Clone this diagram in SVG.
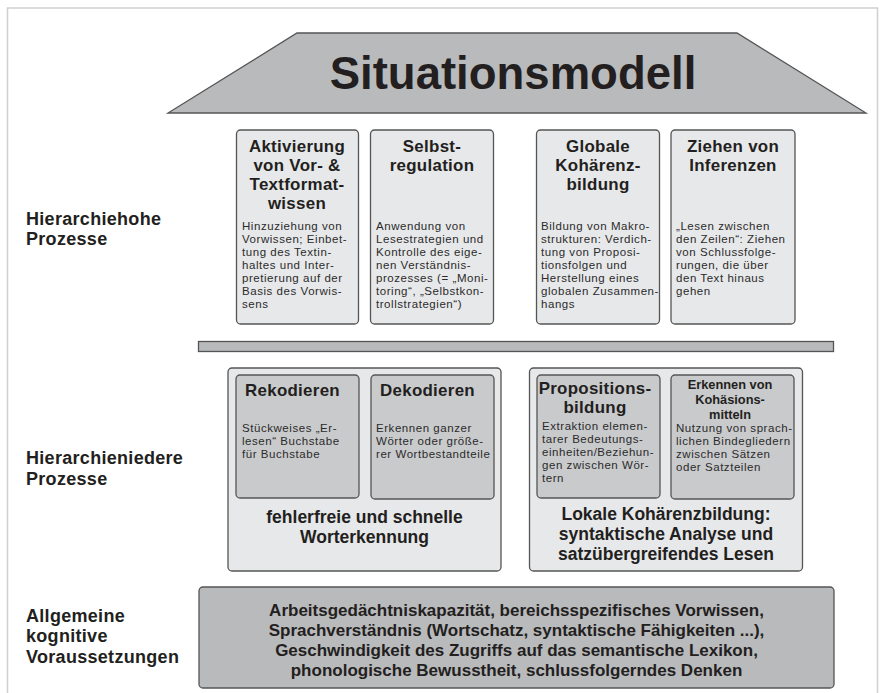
<svg xmlns="http://www.w3.org/2000/svg" width="883" height="693" viewBox="0 0 883 693">
<style>
.t{font-family:"Liberation Sans",Arial,sans-serif;fill:#231f20}
.title{font-size:45.5px;font-weight:bold}
.bt{font-size:16.9px;font-weight:bold;letter-spacing:0.3px}
.lb{font-size:18px;font-weight:bold;letter-spacing:0.3px}
.d{font-size:11.5px;letter-spacing:0.55px;fill:#2b2b2b}
.sm{font-size:12.8px;font-weight:bold}
.sum{font-size:17.5px;font-weight:bold}
.bot{font-size:17px;font-weight:bold}
.box{fill:#e7e8ea;stroke:#555;stroke-width:1.3}
.inner{fill:#c9cacc;stroke:#555;stroke-width:1.3}
.dark{fill:#b9babc;stroke:#555;stroke-width:1.3}
.c{text-anchor:middle}
</style>
<rect x="0" y="0" width="883" height="693" fill="#fff"/>
<rect x="7.5" y="8" width="870" height="700" fill="none" stroke="#d0d0d0" stroke-width="1.5"/>

<g id="roof">
<polygon class="dark" points="297,33 737,33 866,113 168,113"/>
<text class="t title c" x="513" y="89">Situationsmodell</text>
</g>

<g id="labels">
<text class="t lb" x="26" y="225">Hierarchiehohe</text>
<text class="t lb" x="26" y="245">Prozesse</text>
<text class="t lb" x="26" y="464">Hierarchieniedere</text>
<text class="t lb" x="26" y="485">Prozesse</text>
<text class="t lb" x="26" y="622">Allgemeine</text>
<text class="t lb" x="26" y="642">kognitive</text>
<text class="t lb" x="26" y="663">Voraussetzungen</text>
</g>

<g id="aktivierung">
<rect class="box" x="236.5" y="130" width="122" height="194" rx="4"/>
<text class="t bt c" x="297" y="152">Aktivierung</text>
<text class="t bt c" x="297" y="171">von Vor- &amp;</text>
<text class="t bt c" x="297" y="190">Textformat-</text>
<text class="t bt c" x="297" y="209">wissen</text>
<text class="t d" x="242" y="230">Hinzuziehung von</text>
<text class="t d" x="242" y="243">Vorwissen; Einbet-</text>
<text class="t d" x="242" y="256">tung des Textin-</text>
<text class="t d" x="242" y="269">haltes und Inter-</text>
<text class="t d" x="242" y="282">pretierung auf der</text>
<text class="t d" x="242" y="295">Basis des Vorwis-</text>
<text class="t d" x="242" y="308">sens</text>
</g>

<g id="selbstregulation">
<rect class="box" x="370.5" y="130" width="123" height="194" rx="4"/>
<text class="t bt c" x="432" y="152">Selbst-</text>
<text class="t bt c" x="432" y="171">regulation</text>
<text class="t d" x="376" y="230">Anwendung von</text>
<text class="t d" x="376" y="243">Lesestrategien und</text>
<text class="t d" x="376" y="256">Kontrolle des eige-</text>
<text class="t d" x="376" y="269">nen Verständnis-</text>
<text class="t d" x="376" y="282">prozesses (= „Moni-</text>
<text class="t d" x="376" y="295">toring“, „Selbstkon-</text>
<text class="t d" x="376" y="308">trollstrategien“)</text>
</g>

<g id="globale">
<rect class="box" x="536.5" y="130" width="123" height="194" rx="4"/>
<text class="t bt c" x="598" y="152">Globale</text>
<text class="t bt c" x="598" y="171">Kohärenz-</text>
<text class="t bt c" x="598" y="190">bildung</text>
<text class="t d" x="541" y="230">Bildung von Makro-</text>
<text class="t d" x="541" y="243">strukturen: Verdich-</text>
<text class="t d" x="541" y="256">tung von Proposi-</text>
<text class="t d" x="541" y="269">tionsfolgen und</text>
<text class="t d" x="541" y="282">Herstellung eines</text>
<text class="t d" x="541" y="295">globalen Zusammen-</text>
<text class="t d" x="541" y="308">hangs</text>
</g>

<g id="inferenzen">
<rect class="box" x="671" y="130" width="124" height="194" rx="4"/>
<text class="t bt c" x="733" y="152">Ziehen von</text>
<text class="t bt c" x="733" y="171">Inferenzen</text>
<text class="t d" x="676" y="230">„Lesen zwischen</text>
<text class="t d" x="676" y="243">den Zeilen“: Ziehen</text>
<text class="t d" x="676" y="256">von Schlussfolge-</text>
<text class="t d" x="676" y="269">rungen, die über</text>
<text class="t d" x="676" y="282">den Text hinaus</text>
<text class="t d" x="676" y="295">gehen</text>
</g>

<g id="bar">
<rect class="dark" x="198.5" y="341.5" width="635" height="10"/>
</g>

<g id="worterkennung">
<rect class="box" x="228" y="368" width="273" height="203" rx="4"/>
<text class="t sum c" x="364.5" y="523">fehlerfreie und schnelle</text>
<text class="t sum c" x="364.5" y="543">Worterkennung</text>
</g>
<g id="rekodieren">
<rect class="inner" x="236" y="375" width="123" height="123" rx="4"/>
<text class="t bt" x="245" y="396">Rekodieren</text>
<text class="t d" x="242" y="432">Stückweises „Er-</text>
<text class="t d" x="242" y="445">lesen“ Buchstabe</text>
<text class="t d" x="242" y="458">für Buchstabe</text>
</g>
<g id="dekodieren">
<rect class="inner" x="371" y="375" width="123" height="124" rx="4"/>
<text class="t bt" x="380" y="396">Dekodieren</text>
<text class="t d" x="376" y="432">Erkennen ganzer</text>
<text class="t d" x="376" y="445">Wörter oder größe-</text>
<text class="t d" x="376" y="458">rer Wortbestandteile</text>
</g>

<g id="lokale">
<rect class="box" x="529.5" y="368" width="273" height="203" rx="4"/>
<text class="t sum c" x="666" y="520">Lokale Kohärenzbildung:</text>
<text class="t sum c" x="666" y="540">syntaktische Analyse und</text>
<text class="t sum c" x="666" y="560">satzübergreifendes Lesen</text>
</g>
<g id="propositionsbildung">
<rect class="inner" x="537" y="375" width="123" height="123" rx="4"/>
<text class="t bt c" x="595" y="394">Propositions-</text>
<text class="t bt c" x="595" y="413">bildung</text>
<text class="t d" x="542" y="430">Extraktion elemen-</text>
<text class="t d" x="542" y="443">tarer Bedeutungs-</text>
<text class="t d" x="542" y="456">einheiten/Beziehun-</text>
<text class="t d" x="542" y="469">gen zwischen Wör-</text>
<text class="t d" x="542" y="482">tern</text>
</g>
<g id="kohaesion">
<rect class="inner" x="671" y="375" width="123" height="124" rx="4"/>
<text class="t sm c" x="730" y="389">Erkennen von</text>
<text class="t sm c" x="730" y="404">Kohäsions-</text>
<text class="t sm c" x="730" y="419">mitteln</text>
<text class="t d" x="676" y="432">Nutzung von sprach-</text>
<text class="t d" x="676" y="445">lichen Bindegliedern</text>
<text class="t d" x="676" y="458">zwischen Sätzen</text>
<text class="t d" x="676" y="471">oder Satzteilen</text>
</g>

<g id="voraussetzungen">
<rect class="dark" x="199" y="587" width="635" height="101" rx="4"/>
<text class="t bot c" x="516.5" y="616">Arbeitsgedächtniskapazität, bereichsspezifisches Vorwissen,</text>
<text class="t bot c" x="516.5" y="636">Sprachverständnis (Wortschatz, syntaktische Fähigkeiten ...),</text>
<text class="t bot c" x="516.5" y="656">Geschwindigkeit des Zugriffs auf das semantische Lexikon,</text>
<text class="t bot c" x="516.5" y="676">phonologische Bewusstheit, schlussfolgerndes Denken</text>
</g>

<g id="connectors"></g>
</svg>
